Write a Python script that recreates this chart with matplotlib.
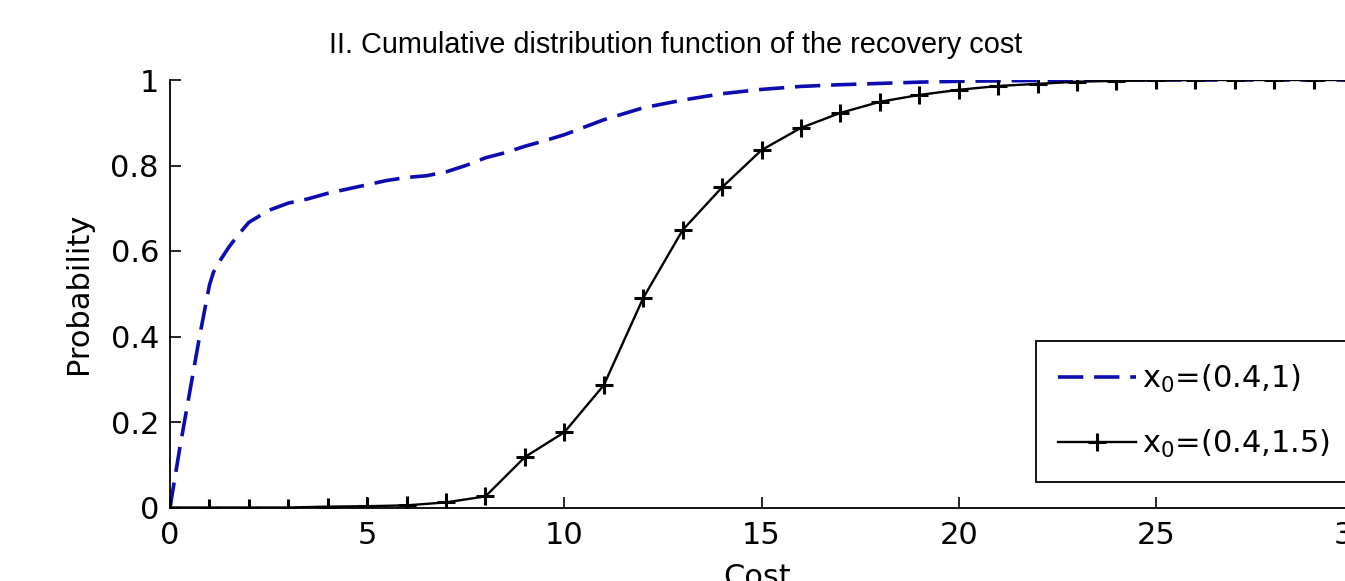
import matplotlib
matplotlib.use('Agg')
import matplotlib.pyplot as plt

# dashed blue curve, x0=(0.4,1)
cost_a = [0, 0.25, 0.5, 0.75, 1.0, 1.1, 1.25, 1.5, 1.75, 2.0, 2.5, 3, 3.5, 4, 4.5,
          5, 5.5, 6, 6.5, 7, 7.5, 8, 8.5, 9, 9.5, 10, 11, 12, 13, 14, 15, 16, 17,
          18, 19, 20, 21, 22, 23, 24, 25, 26, 27, 28, 29, 30]
prob_a = [0, 0.14, 0.27, 0.40, 0.52, 0.55, 0.575, 0.61, 0.64, 0.667, 0.695, 0.712,
          0.722, 0.735, 0.745, 0.755, 0.765, 0.772, 0.776, 0.785, 0.80, 0.818, 0.83,
          0.845, 0.858, 0.872, 0.907, 0.935, 0.953, 0.968, 0.978, 0.985, 0.989,
          0.992, 0.995, 0.997, 0.998, 0.999, 1, 1, 1, 1, 1, 1, 1, 1]

# black curve with + markers, x0=(0.4,1.5)
cost_b = list(range(31))
prob_b = [0, 0, 0, 0, 0.002, 0.003, 0.005, 0.012, 0.026, 0.118, 0.176, 0.286, 0.49,
          0.649, 0.749, 0.836, 0.888, 0.923, 0.949, 0.965, 0.977, 0.986, 0.991,
          0.996, 0.998, 0.999, 1, 1, 1, 1, 1]

labels = [r'x$_0$=(0.4,1)', r'x$_0$=(0.4,1.5)']
xticks = [0, 5, 10, 15, 20, 25, 30]
yticks = [0, 0.2, 0.4, 0.6, 0.8, 1]
yticklabels = ['0', '0.2', '0.4', '0.6', '0.8', '1']

plt.rcParams['font.family'] = ['DejaVu Sans']
plt.rcParams['mathtext.default'] = 'regular'

W, H = 1345, 581
fig = plt.figure(figsize=(W / 100, H / 100), dpi=100)
# axes run past the right edge of the picture, as in the reference
ax = fig.add_axes([170 / W, (H - 507.5) / H, 1183 / W, 427.5 / H])

ax.plot(cost_a, prob_a, color='#0c0cb0', lw=2.6, dashes=(7, 3), label=labels[0])
ax.plot(cost_b, prob_b, color='black', lw=1.7, marker='+', ms=13, mew=2.2,
        label=labels[1])

ax.set_xlim(0, 30)
ax.set_ylim(0, 1)
ax.set_xticks(xticks)
ax.set_yticks(yticks)
ax.set_yticklabels(yticklabels)
for s in ['top', 'right']:
    ax.spines[s].set_visible(False)
for s in ['left', 'bottom']:
    ax.spines[s].set_linewidth(1.3)
ax.tick_params(direction='in', length=8, width=1.2, labelsize=22)
ax.tick_params(axis='x', pad=10)
ax.tick_params(axis='y', pad=8)

ax.set_xlabel('Cost', fontsize=22)
ax.xaxis.set_label_coords(0.496, -0.129)
ax.set_ylabel('Probability', fontsize=22)
ax.yaxis.set_label_coords(-0.065, 0.5)

fig.text(676 / W, 1 - 45 / H, 'II. Cumulative distribution function of the recovery cost',
         fontsize=20.8, family='Liberation Sans', ha='center', va='center')

leg = ax.legend(loc='lower left', bbox_to_anchor=(1036 / W, (H - 482) / H),
                bbox_transform=fig.transFigure, borderaxespad=0, fontsize=22,
                fancybox=False, edgecolor='black', framealpha=1, handlelength=2.55,
                handletextpad=0.2, borderpad=0.72, labelspacing=1.07)
leg.get_frame().set_linewidth(1.3)

fig.savefig('out.png', dpi=100)
